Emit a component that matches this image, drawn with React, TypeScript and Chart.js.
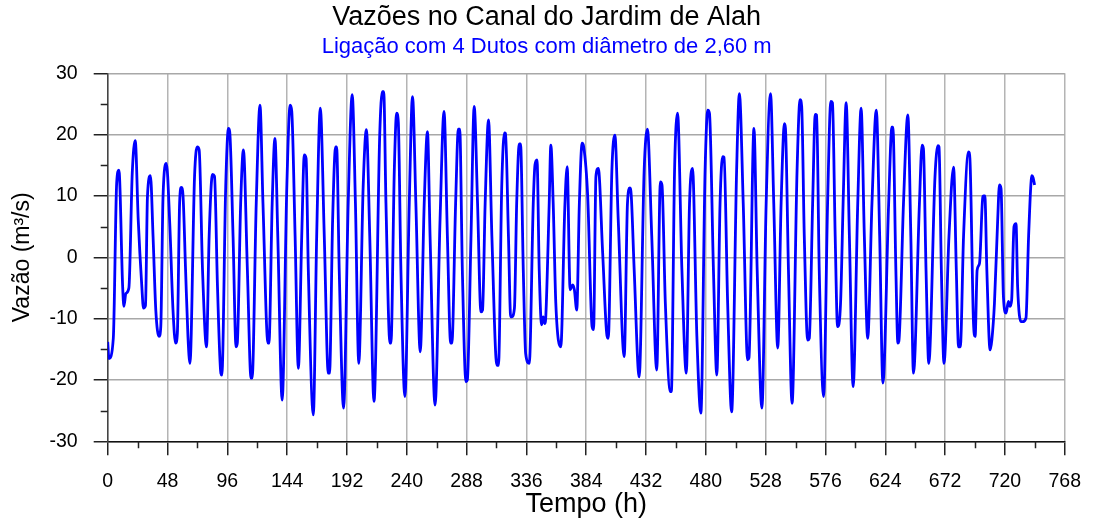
import React, { useEffect, useRef } from 'react';
import { Chart, registerables } from 'chart.js';
Chart.register(...registerables);

const titleText = 'Vazões no Canal do Jardim de Alah';
const subtitleText = 'Ligação com 4 Dutos com diâmetro de 2,60 m';
const xTitle = 'Tempo (h)';
const yTitle = 'Vazão (m³/s)';

const xTicks = [0, 48, 96, 144, 192, 240, 288, 336, 384, 432, 480, 528, 576, 624, 672, 720, 768];
const yTicks = [-30, -20, -10, 0, 10, 20, 30];
const xMinor = [24, 72, 120, 168, 216, 264, 312, 360, 408, 456, 504, 552, 600, 648, 696, 744];
const yMinor = [-25, -15, -5, 5, 15, 25];

const hours = [
  0, 1, 4.5, 7.2, 9.0, 12.0, 13.0, 14.6, 17.0, 19.7, 22.1, 24.5, 27.4, 28.7, 30.3, 31.9, 34.3, 36.4, 38.6, 41.2,
  42.6, 44.4, 47.1, 49.8, 52.4, 54.5, 55.9, 57.7, 59.1, 60.4, 62.5, 64.4, 66.0, 69.7, 71.9, 73.4, 76.1, 79.3, 81.4, 84.1,
  85.7, 88.1, 90.8, 91.6, 94.7, 96.9, 97.9, 100.6, 103.0, 104.0, 106.7, 108.9, 112.1, 115.0, 115.9, 119.2, 122.2, 124.6, 128.6, 129.4,
  132.0, 134.2, 136.5, 140.0, 143.8, 146.4, 147.7, 150.4, 153.0, 155.7, 157.8, 159.2, 161.0, 165.0, 167.7, 170.6, 173.8, 177.0, 178.0, 180.5,
  182.9, 183.7, 185.8, 189.3, 193.0, 196.2, 198.8, 201.5, 205.0, 207.6, 210.3, 213.7, 218.3, 220.4, 221.5, 223.3, 226.5, 227.3, 230.0, 231.9,
  233.2, 235.3, 238.5, 242.0, 244.6, 247.3, 250.8, 254.0, 256.6, 258.7, 262.7, 266.7, 269.9, 272.6, 275.2, 276.2, 279.2, 281.4, 282.5, 284.6,
  287.5, 288.6, 291.5, 294.1, 296.8, 299.5, 300.8, 302.9, 305.6, 308.3, 312.3, 313.6, 316.2, 318.4, 319.2, 321.6, 323.4, 324.2, 326.4, 328.2,
  330.3, 331.3, 333.5, 335.4, 338.3, 341.5, 342.9, 344.5, 346.3, 348.2, 349.5, 350.8, 351.6, 354.3, 355.6, 357.5, 359.6, 363.6, 366.8, 368.7,
  371.1, 373.2, 374.5, 376.4, 378.5, 380.7, 382.0, 385.2, 388.7, 389.9, 391.8, 393.7, 397.2, 400.6, 401.7, 404.6, 407.0, 409.7, 414.5, 417.1,
  419.0, 420.1, 422.5, 426.5, 430.5, 433.1, 436.6, 440.6, 443.5, 444.8, 447.5, 451.5, 452.3, 454.9, 457.3, 460.8, 464.3, 466.9, 469.3, 472.8,
  476.0, 479.4, 481.6, 482.9, 486.1, 488.8, 491.4, 493.5, 494.6, 497.5, 500.7, 504.7, 506.9, 510.0, 513.5, 514.6, 518.6, 521.2, 525.0, 528.4,
  531.9, 534.5, 537.7, 540.4, 543.1, 543.9, 546.3, 549.2, 553.2, 555.6, 556.9, 559.0, 561.7, 563.0, 565.7, 567.8, 568.9, 571.0, 574.5, 577.7,
  580.3, 581.6, 583.8, 585.7, 588.1, 590.3, 592.6, 595.2, 598.2, 601.9, 604.6, 607.2, 609.9, 613.3, 616.8, 619.5, 622.1, 626.7, 629.3, 630.1,
  632.5, 634.1, 634.9, 638.6, 642.1, 644.5, 646.6, 651.4, 653.5, 654.6, 656.7, 658.9, 663.9, 666.3, 667.1, 669.0, 671.1, 675.1, 678.8, 681.0,
  682.8, 684.2, 686.8, 690.8, 691.9, 694.8, 696.1, 697.7, 699.6, 702.3, 702.8, 703.9, 705.5, 708.1, 709.5, 711.6, 714.2, 715.6, 716.9, 718.8,
  720.9, 722.8, 724.1, 725.4, 727.3, 728.9, 730.2, 732.9, 734.2, 736.9, 739.0, 741.7, 742.6, 743.8,
];

const flow = [
  -13.8, -16.5, -13.2, 12.1, 14.2, -4.8, -8.0, -5.9, -5.0, 13.7, 19.0, 6.1, -4.8, -8.3, -7.9, 9.9, 13.3, 3.4, -8.6, -12.9,
  -11.3, 9.9, 15.3, 5.5, -8.6, -14.0, -12.4, 8.8, 11.4, 10.2, -2.1, -12.9, -17.3, 13.2, 18.0, 17.5, -2.1, -14.6, 3.4, 13.5,
  13.2, -4.8, -18.9, -19.2, 11.5, 21.0, 20.5, 3.4, -14.6, -14.0, 8.8, 17.5, -2.1, -19.7, -19.7, 8.8, 24.8, 8.8, -14.0, -14.0,
  8.8, 19.4, 3.4, -23.3, 12.0, 24.8, 23.8, 3.4, -18.1, 3.4, 16.7, 16.1, -2.1, -25.7, 3.4, 24.3, 3.4, -18.9, -18.9, 6.1,
  18.0, 18.0, -2.1, -24.6, 8.8, 26.5, 8.8, -17.3, 11.5, 20.8, 3.4, -23.5, 20.0, 27.0, 27.0, 8.8, -14.0, -14.0, 14.2, 23.5,
  22.1, -2.1, -22.7, 8.8, 26.2, 8.8, -15.4, 8.8, 20.5, 3.4, -24.1, 6.1, 23.8, 3.4, -14.0, -14.0, 8.8, 20.9, 20.9, -2.1,
  -20.3, -20.0, 3.0, 24.6, 8.8, -8.9, -8.6, 8.8, 22.4, 3.4, -17.6, -17.6, 11.5, 20.3, 20.2, 3.4, -9.7, -9.7, -8.3, 8.8,
  18.5, 18.5, -2.1, -15.7, -17.3, 8.8, 15.1, 15.9, -2.1, -11.0, -9.7, -10.8, -9.5, 8.8, 18.3, 8.8, -7.5, -14.6, 8.0, 14.8,
  -5.3, -4.5, -5.3, -8.6, 8.8, 18.6, 18.0, 9.9, -11.3, -11.8, 13.2, 14.5, 0.7, -12.7, -13.2, 14.2, 19.9, 6.1, -16.2, 8.8,
  11.3, 10.2, -2.1, -19.5, 14.2, 20.9, 3.4, -18.4, 12.3, 11.8, -7.5, -21.9, -21.9, 14.2, 23.5, -2.1, -18.9, 8.8, 14.5, -12.9,
  -25.4, 14.2, 24.0, 23.5, -2.1, -19.2, 8.8, 16.4, 16.3, -7.5, -25.2, 14.2, 26.7, 8.8, -16.7, -16.4, 21.0, -2.1, -24.6, 8.8,
  26.7, 8.8, -14.8, 8.8, 21.8, 21.0, -2.1, -23.8, 14.2, 25.7, 24.6, 3.4, -13.5, -13.2, 8.8, 23.3, 23.2, -2.1, -22.7, 8.8,
  25.4, 25.2, 3.4, -11.3, -7.5, 10.0, 25.2, 3.4, -21.1, 8.8, 24.3, 3.4, -13.2, 8.8, 24.0, 3.4, -20.5, 8.8, 21.2, 21.2,
  -2.1, -14.0, -13.7, 8.8, 23.2, 3.4, -18.9, 8.8, 18.3, 17.7, -2.1, -17.3, 13.2, 18.2, 18.0, -2.1, -17.3, 3.4, 14.7, -2.1,
  -14.6, -14.6, 3.4, 17.2, 16.1, -10.8, -12.9, -2.1, -1.0, 9.9, 10.0, 10.0, -2.1, -15.1, -13.5, -7.5, 6.1, 11.8, 11.2, -6.4,
  -9.1, -7.2, -8.0, -7.0, 5.0, 5.5, -4.8, -10.5, -10.5, -9.9, 3.4, 13.3, 13.0, 11.8,
];

const FONT = 'Liberation Sans, Arial, sans-serif';

export default function App() {
  const ref = useRef<HTMLCanvasElement>(null);

  useEffect(() => {
    if (!ref.current) return;
    const minorTicks = {
      id: 'minorTicks',
      afterDraw(chart: any) {
        const { ctx, scales } = chart;
        const xs = scales.x;
        const ys = scales.y;
        ctx.save();
        ctx.strokeStyle = '#222';
        ctx.lineWidth = 1.5;
        ctx.beginPath();
        xMinor.forEach((v) => {
          const px = Math.round(xs.getPixelForValue(v)) + 0.5;
          ctx.moveTo(px, ys.bottom);
          ctx.lineTo(px, ys.bottom + 7);
        });
        yMinor.forEach((v) => {
          const py = Math.round(ys.getPixelForValue(v)) + 0.5;
          ctx.moveTo(xs.left - 7, py);
          ctx.lineTo(xs.left, py);
        });
        ctx.stroke();
        ctx.restore();
      },
    };

    const chart = new Chart(ref.current, {
      type: 'line',
      data: {
        datasets: [
          {
            data: hours.map((x, i) => ({ x, y: flow[i] })),
            borderColor: '#0000ff',
            borderWidth: 2.8,
            pointRadius: 0,
            fill: false,
            cubicInterpolationMode: 'monotone',
          },
        ],
      },
      options: {
        responsive: false,
        animation: false,
        layout: { padding: { left: 24, right: 26.7, top: 0, bottom: 0 } },
        plugins: {
          legend: { display: false },
          tooltip: { enabled: false },
          title: {
            display: true,
            text: titleText,
            color: '#000',
            font: { family: FONT, size: 27, weight: 'normal', lineHeight: 1.2 },
            padding: { top: 1, bottom: 0 },
          },
          subtitle: {
            display: true,
            text: subtitleText,
            color: '#0000ff',
            font: { family: FONT, size: 22, weight: 'normal', lineHeight: 1.2 },
            padding: { top: 0, bottom: 13.5 },
          },
        },
        scales: {
          x: {
            type: 'linear',
            min: 0,
            max: 768,
            afterBuildTicks: (s: any) => {
              s.ticks = xTicks.map((value) => ({ value }));
            },
            afterFit: (s: any) => {
              s.height = 77.7;
            },
            ticks: {
              autoSkip: false,
              maxRotation: 0,
              color: '#000',
              padding: 15,
              font: { family: FONT, size: 19.5 },
            },
            grid: { color: '#b4b4b4', lineWidth: 1.5, tickLength: 14, tickColor: '#222', tickWidth: 1.5 },
            border: { color: '#111', width: 1.5 },
            title: {
              display: true,
              text: xTitle,
              color: '#000',
              font: { family: FONT, size: 27, lineHeight: 1.2 },
              padding: { top: 0, bottom: -2 },
            },
          },
          y: {
            type: 'linear',
            min: -30,
            max: 30,
            afterBuildTicks: (s: any) => {
              s.ticks = yTicks.map((value) => ({ value }));
            },
            afterFit: (s: any) => {
              s.width = 83.7;
            },
            ticks: {
              color: '#000',
              padding: 16,
              font: { family: FONT, size: 19.5 },
            },
            grid: { color: '#a8a8a8', lineWidth: 1.5, tickLength: 14, tickColor: '#222', tickWidth: 1.5 },
            border: { color: '#444', width: 1.5 },
            title: {
              display: true,
              text: yTitle,
              color: '#000',
              font: { family: FONT, size: 23, lineHeight: 1.2 },
              padding: { top: -15, bottom: 0 },
            },
          },
        },
      },
      plugins: [minorTicks],
    } as any);
    return () => chart.destroy();
  }, []);

  return (
    <div style={{ position: 'fixed', left: 0, top: 0, width: 1096, height: 519, background: '#fff' }}>
      <canvas ref={ref} width={1096} height={519} style={{ display: 'block', width: 1096, height: 519 }} />
    </div>
  );
}
